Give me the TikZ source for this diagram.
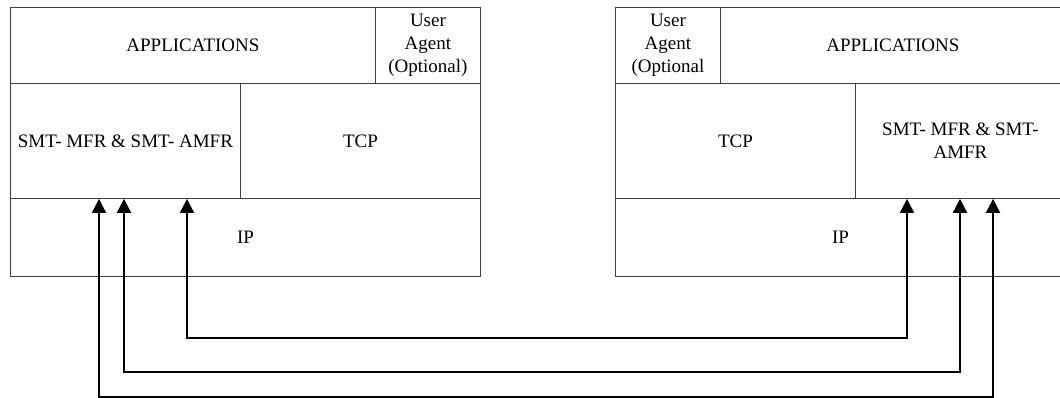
\documentclass[tikz,border=0pt]{standalone}
\usepackage{fontspec}
\setmainfont{Liberation Serif}
\usetikzlibrary{arrows.meta}
\begin{document}
\begin{tikzpicture}[x=1pt,y=-1pt,
  cell/.style={draw=black!75,line width=0.9pt,inner sep=0pt,anchor=north west,
    align=center,font=\fontsize{19}{23}\selectfont},
  conn/.style={line width=2pt,{Triangle[length=14pt,width=14pt]}-{Triangle[length=14pt,width=14pt]}}]
  \useasboundingbox (0,0) rectangle (1060,397);
  \clip (0,0) rectangle (1060,397);
  % left protocol stack
  \node[cell,minimum width=365pt,minimum height=76pt] (lapp) at (10,7) {APPLICATIONS};
  \node[cell,minimum width=105pt,minimum height=76pt] (lua) at (375,7) {User\\Agent\\(Optional)};
  \node[cell,minimum width=230pt,minimum height=115pt] (lsmt) at (10,83) {SMT- MFR \& SMT- AMFR};
  \node[cell,minimum width=240pt,minimum height=115pt] (ltcp) at (240,83) {TCP};
  \node[cell,minimum width=470pt,minimum height=78pt] (lip) at (10,198) {IP};
  % right protocol stack
  \node[cell,minimum width=105pt,minimum height=76pt] (rua) at (615,7) {User\\Agent\\(Optional};
  \node[cell,minimum width=345pt,minimum height=76pt] (rapp) at (720,7) {APPLICATIONS};
  \node[cell,minimum width=240pt,minimum height=115pt] (rtcp) at (615,83) {TCP};
  \node[cell,minimum width=210pt,minimum height=115pt] (rsmt) at (855,83) {SMT- MFR \& SMT-\\AMFR};
  \node[cell,minimum width=450pt,minimum height=78pt] (rip) at (615,198) {IP};
  % arrow end points on the SMT layers
  \coordinate (la1) at ([xshift=89pt]lsmt.south west);
  \coordinate (la2) at ([xshift=114pt]lsmt.south west);
  \coordinate (la3) at ([xshift=177pt]lsmt.south west);
  \coordinate (ra1) at ([xshift=52pt]rsmt.south west);
  \coordinate (ra2) at ([xshift=105pt]rsmt.south west);
  \coordinate (ra3) at ([xshift=138pt]rsmt.south west);
  % levels of the horizontal runs
  \coordinate (y1) at (0,338);
  \coordinate (y2) at (0,372);
  \coordinate (y3) at (0,396.5);
  \draw[conn] (la3) -- (la3 |- y1) -- (ra1 |- y1) -- (ra1);
  \draw[conn] (la2) -- (la2 |- y2) -- (ra2 |- y2) -- (ra2);
  \draw[conn] (la1) -- (la1 |- y3) -- (ra3 |- y3) -- (ra3);
\end{tikzpicture}
\end{document}
